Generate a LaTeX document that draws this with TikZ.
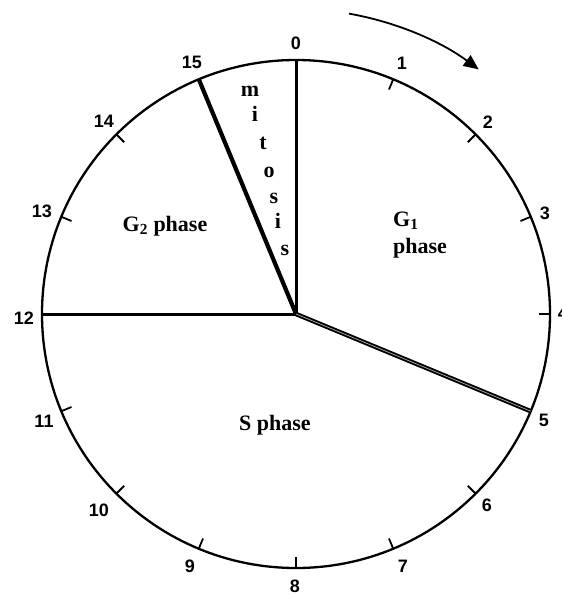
\documentclass[tikz,border=0pt]{standalone}
\usepackage{fontspec}
\setmainfont{Liberation Serif}
\newfontfamily\numfont{Liberation Sans}
\usetikzlibrary{calc,arrows.meta}
\tikzset{
  rim/.style={line width=2.3pt},
  spoke/.style={line width=3pt},
  tickmark/.style={line width=1.8pt},
  clocknum/.style={font=\numfont\bfseries\fontsize{18}{18}\selectfont, inner sep=0pt},
  phaselabel/.style={font=\bfseries\fontsize{22}{24}\selectfont, inner sep=0pt},
  mitletter/.style={font=\bfseries\fontsize{22}{22}\selectfont, inner sep=0pt}
}
\begin{document}
\begin{tikzpicture}[x=1pt,y=-1pt]
\useasboundingbox (0,0) rectangle (562,595);
\coordinate (c) at (296,314);
\draw[rim] (c) circle[radius=254];
\foreach \k in {0,...,15} {
  \coordinate (p\k) at ($(c)+(22.5*\k-90:254)$);
  \coordinate (q\k) at ($(c)+(22.5*\k-90:243)$);
}
\foreach \k in {1,2,3,4,6,7,8,9,10,11,13,14} {
  \draw[tickmark] (p\k) -- (q\k);
}
\foreach \k/\x/\y in {0/296/43,1/402/63,2/488/122,3/545/213,4/563/313,5/544/420,6/487/505,7/403/566,8/295/586,9/190/566,10/99/510,11/44/421,12/24/318,13/42/211,14/104/121,15/192/62} {
  \node[clocknum] (l\k) at (\x,\y) {\k};
}
\draw[spoke] (c) -- (p0);
\draw[spoke, line width=4.2pt] (c) -- (p15);
\draw[spoke] (c) -- (p12);
\draw[line width=1.9pt, double=white!70!black, double distance=0.7pt] (c) -- (p5);
% direction arrow
\coordinate (a0) at ($(c)+(-80:305)$);
\draw[line width=1.8pt, -{Triangle[length=15pt,width=13pt]}] (a0) arc[start angle=-80, end angle=-53.5, radius=308] coordinate (a1);
% phase labels
\node[phaselabel, anchor=base west] (g1) at (393,226) {G\textsubscript{1}};
\node[phaselabel, anchor=base west] (g1p) at (393,253) {phase};
\node[phaselabel, anchor=base] (g2) at (165,231) {G\textsubscript{2} phase};
\node[phaselabel, anchor=base] (sp) at (275,430) {S phase};
% mitosis
\node[mitletter] (m1) at (250,91) {m};
\node[mitletter] (m2) at (255,114) {i};
\node[mitletter] (m3) at (263,143) {t};
\node[mitletter] (m4) at (269,172) {o};
\node[mitletter] (m5) at (274,198) {s};
\node[mitletter] (m6) at (278,221) {i};
\node[mitletter] (m7) at (285,250) {s};
\end{tikzpicture}
\end{document}
